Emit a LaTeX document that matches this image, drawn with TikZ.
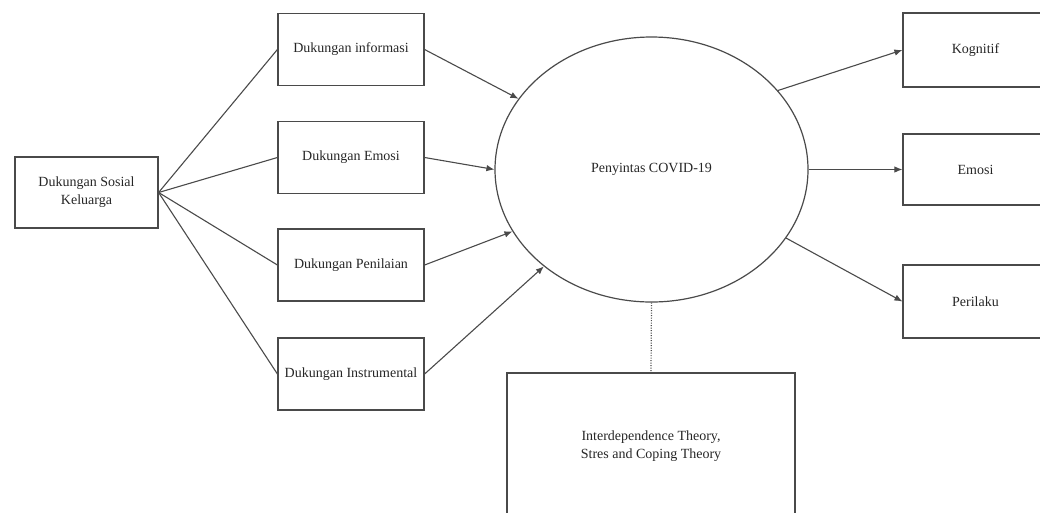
\documentclass[tikz,border=0pt]{standalone}
\usepackage{fontspec}
\setmainfont{Liberation Serif}
\usetikzlibrary{arrows.meta,shapes.geometric}

\definecolor{ink}{HTML}{4A4A4A}
\definecolor{txt}{HTML}{262626}

\tikzset{
  box/.style={draw=ink, line width=1.2pt, minimum width=146pt, minimum height=72pt,
    inner sep=0pt, align=center, text=txt, font=\fontsize{14}{18}\selectfont},
  link/.style={draw=ink, line width=1.1pt},
  arr/.style={link, -{Latex[length=8pt,width=6.5pt]}},
  dots/.style={draw=ink, line width=1.2pt, dash pattern=on 1pt off 1.5pt}
}

\begin{document}
\begin{tikzpicture}[x=1pt,y=-1pt]
  \useasboundingbox (0,0) rectangle (1040,512);
  \begin{scope}
    \clip (0,0) rectangle (1040,512);

    % source construct
    \node[box, minimum width=143pt, minimum height=71pt] (kel) at (86.5,192.5) {Dukungan Sosial\\Keluarga};

    % support dimensions
    \node[box] (inf)  at (351,49.5)  {Dukungan informasi};
    \node[box] (emo)  at (351,157.5) {Dukungan Emosi};
    \node[box] (pen)  at (351,265)   {Dukungan Penilaian};
    \node[box] (ins)  at (351,374)   {Dukungan Instrumental};

    % central construct
    \node[draw=ink, line width=1.2pt, ellipse, minimum width=313pt, minimum height=265pt,
          inner sep=0pt, text=txt, font=\fontsize{14}{18}\selectfont] (cov) at (651.5,169.5) {Penyintas COVID-19};

    % outcome dimensions
    \node[box, minimum width=145pt, minimum height=74pt] (kog) at (975.5,50)  {Kognitif};
    \node[box, minimum width=145pt, minimum height=71pt] (emr) at (975.5,169.5) {Emosi};
    \node[box, minimum width=145pt, minimum height=73pt] (per) at (975.5,301.5) {Perilaku};

    % theory box
    \node[box, minimum width=288pt, minimum height=146pt] (teo) at (651,446) {Interdependence Theory,\\Stres and Coping Theory};

    % connectors from family support
    \draw[link] (kel.east) -- (inf.west);
    \draw[link] (kel.east) -- (emo.west);
    \draw[link] (kel.east) -- (pen.west);
    \draw[link] (kel.east) -- (ins.west);

    % into the central ellipse
    \draw[arr] (inf.east) -- (cov.152);
    \draw[arr] (emo.east) -- (cov.180);
    \draw[arr] (pen.east) -- (cov.204);
    \draw[arr] (ins.east) -- (cov.222);

    % out of the central ellipse
    \draw[arr] (cov.32)  -- (kog.west);
    \draw[arr] (cov.0)   -- (emr.west);
    \draw[arr] (cov.-27) -- (per.west);

    % theoretical basis
    \draw[dots] (cov.south) -- (teo.north);
  \end{scope}
\end{tikzpicture}
\end{document}
